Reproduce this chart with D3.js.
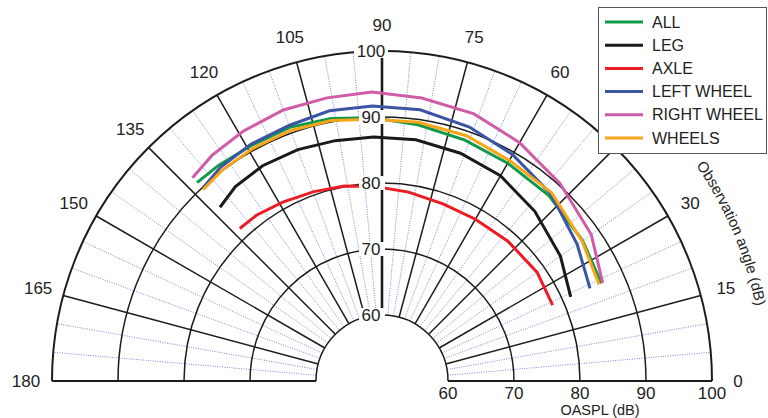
<!DOCTYPE html>
<html><head><meta charset="utf-8">
<script src="https://cdn.jsdelivr.net/npm/d3@7"></script>
<style>
html,body{margin:0;padding:0;background:#fff;}
svg{display:block;font-family:"Liberation Sans",Arial,sans-serif;}
</style></head>
<body><svg id="c" width="768" height="418"></svg>
<script>
// ---- data ----
const angles = [24, 35, 48, 60, 71, 82, 92, 101, 110, 119, 127, 133];
const seriesNames = ["ALL", "LEG", "AXLE", "LEFT WHEEL", "RIGHT WHEEL", "WHEELS"];
const seriesColors = ["#11994a", "#1a1a1a", "#ec1c24", "#3a55a4", "#d05ba8", "#f9a51a"];
const allVals   = [86.4, 87.1, 87.8, 88.1, 88.6, 89.2, 89.9, 90.5, 90.9, 90.8, 91.0, 91.1];
const legVals   = [81.3, 83.0, 84.6, 85.9, 86.5, 86.9, 87.0, 87.1, 87.3, 87.3, 86.9, 86.0];
const axleVals  = [78.3, 78.7, 78.5, 78.3, 78.4, 78.9, 79.5, 80.1, 80.5, 81.0, 81.5, 81.6];
const leftVals  = [84.5, 86.1, 88.2, 89.6, 90.7, 91.5, 91.7, 91.7, 91.2, 91.0, 90.6, 89.9];
const rightVals = [86.6, 88.7, 90.3, 91.7, 92.8, 93.3, 93.8, 93.7, 93.7, 93.3, 92.8, 92.1];
const wheelVals = [86.0, 87.0, 88.4, 88.6, 89.3, 89.6, 89.7, 90.2, 90.4, 90.3, 90.1, 89.7];
const seriesValues = [allVals, legVals, axleVals, leftVals, rightVals, wheelVals];
const angleTicks = [0, 15, 30, 45, 60, 75, 90, 105, 120, 135, 150, 165, 180];
const minorAngles = d3.range(0, 181, 5).filter(a => a % 15 !== 0);
const dbTicks = [60, 70, 80, 90, 100];
const radialTitle = "OASPL (dB)";
const angleTitle = "Observation angle (dB)";

// ---- layout ----
const cx = 382, cy = 381;
const r = d3.scaleLinear().domain([60, 100]).range([66, 330]);
const deg = d3.scaleLinear().domain([0, 180]).range([0, Math.PI]);
const px = (a, rad) => cx + rad * Math.cos(deg(a));
const py = (a, rad) => cy - rad * Math.sin(deg(a));

const svg = d3.select("#c");
const g = svg.append("g");

// minor dotted radials
g.selectAll("line.minor").data(minorAngles).join("line")
  .attr("x1", a => px(a, r(60))).attr("y1", a => py(a, r(60)))
  .attr("x2", a => px(a, r(100))).attr("y2", a => py(a, r(100)))
  .attr("stroke", "#8386d4").attr("stroke-width", 1)
  .attr("stroke-dasharray", "1,1.4");

// major radials
g.selectAll("line.major").data(angleTicks).join("line")
  .attr("x1", a => px(a, r(60))).attr("y1", a => py(a, r(60)))
  .attr("x2", a => px(a, r(100))).attr("y2", a => py(a, r(100)))
  .attr("stroke", "#1c1c1c")
  .attr("stroke-width", a => a === 90 ? 2.6 : (a === 0 || a === 180 ? 2 : 1.5));

// arcs
g.selectAll("path.arc").data(dbTicks).join("path")
  .attr("d", v => { const p = d3.path(); p.arc(cx, cy, r(v), Math.PI, 2 * Math.PI); return p.toString(); })
  .attr("fill", "none").attr("stroke", "#1c1c1c")
  .attr("stroke-width", v => v === 100 ? 2 : 1.5);

// curves
const line = d3.lineRadial()
  .angle(d => deg(90 - d[0]))
  .radius(d => r(d[1]));
const cg = g.append("g").attr("transform", `translate(${cx},${cy})`);
seriesValues.forEach((vals, i) => {
  cg.append("path")
    .attr("d", line(angles.map((a, j) => [a, vals[j]])))
    .attr("fill", "none").attr("stroke", seriesColors[i])
    .attr("stroke-width", 3).attr("stroke-linejoin", "miter");
});

// angle labels
g.selectAll("text.ang").data(angleTicks).join("text")
  .attr("x", a => px(a, 356)).attr("y", a => py(a, 356))
  .attr("text-anchor", "middle").attr("dominant-baseline", "central")
  .attr("font-size", 17).attr("fill", "#222").text(a => a);

// radial labels on the 90 axis (with white boxes)
const rl = g.selectAll("g.rl").data(dbTicks).join("g")
  .attr("transform", v => `translate(${cx - 11},${cy - r(v)})`);
rl.append("rect").attr("x", v => v === 100 ? -17 : -12).attr("y", -7)
  .attr("width", v => v === 100 ? 34 : 26).attr("height", 14).attr("fill", "#fff");
rl.append("text").attr("text-anchor", "middle").attr("dominant-baseline", "central")
  .attr("font-size", 17).attr("fill", "#222").text(v => v);

// radial labels along the baseline
const bl = g.selectAll("g.bl").data(dbTicks).join("g")
  .attr("transform", v => `translate(${cx + r(v)},${cy + 12})`);
bl.append("rect").attr("x", v => v === 100 ? -17 : -12).attr("y", -10.5)
  .attr("width", v => v === 100 ? 34 : 24).attr("height", 20).attr("fill", "#fff");
bl.append("text").attr("text-anchor", "middle").attr("dominant-baseline", "central")
  .attr("font-size", 17).attr("fill", "#222").text(v => v);

// axis titles
g.append("text").attr("x", 600).attr("y", 410).attr("text-anchor", "middle")
  .attr("dominant-baseline", "central").attr("font-size", 14.5).attr("fill", "#222")
  .text(radialTitle);
const tr = 381;
const arcP = d3.path();
arcP.arc(cx, cy, tr, -deg(34.5), -deg(4), false);
svg.append("defs").append("path").attr("id", "tpath").attr("d", arcP.toString());
g.append("text").attr("font-size", 15).attr("fill", "#222")
  .append("textPath").attr("href", "#tpath").attr("startOffset", 0)
  .text(angleTitle);

// legend
const lg = svg.append("g");
lg.append("rect").attr("x", 598.5).attr("y", 7.5).attr("width", 168).attr("height", 146)
  .attr("fill", "#fff").attr("stroke", "#555").attr("stroke-width", 1);
const ly = d3.scalePoint().domain(seriesNames).range([22, 138]);
seriesNames.forEach((n, i) => {
  lg.append("line").attr("x1", 605).attr("x2", 643).attr("y1", ly(n)).attr("y2", ly(n))
    .attr("stroke", seriesColors[i]).attr("stroke-width", 3);
  lg.append("text").attr("x", 652).attr("y", ly(n)).attr("dominant-baseline", "central")
    .attr("font-size", 16).attr("fill", "#222").text(n);
});
</script></body></html>
